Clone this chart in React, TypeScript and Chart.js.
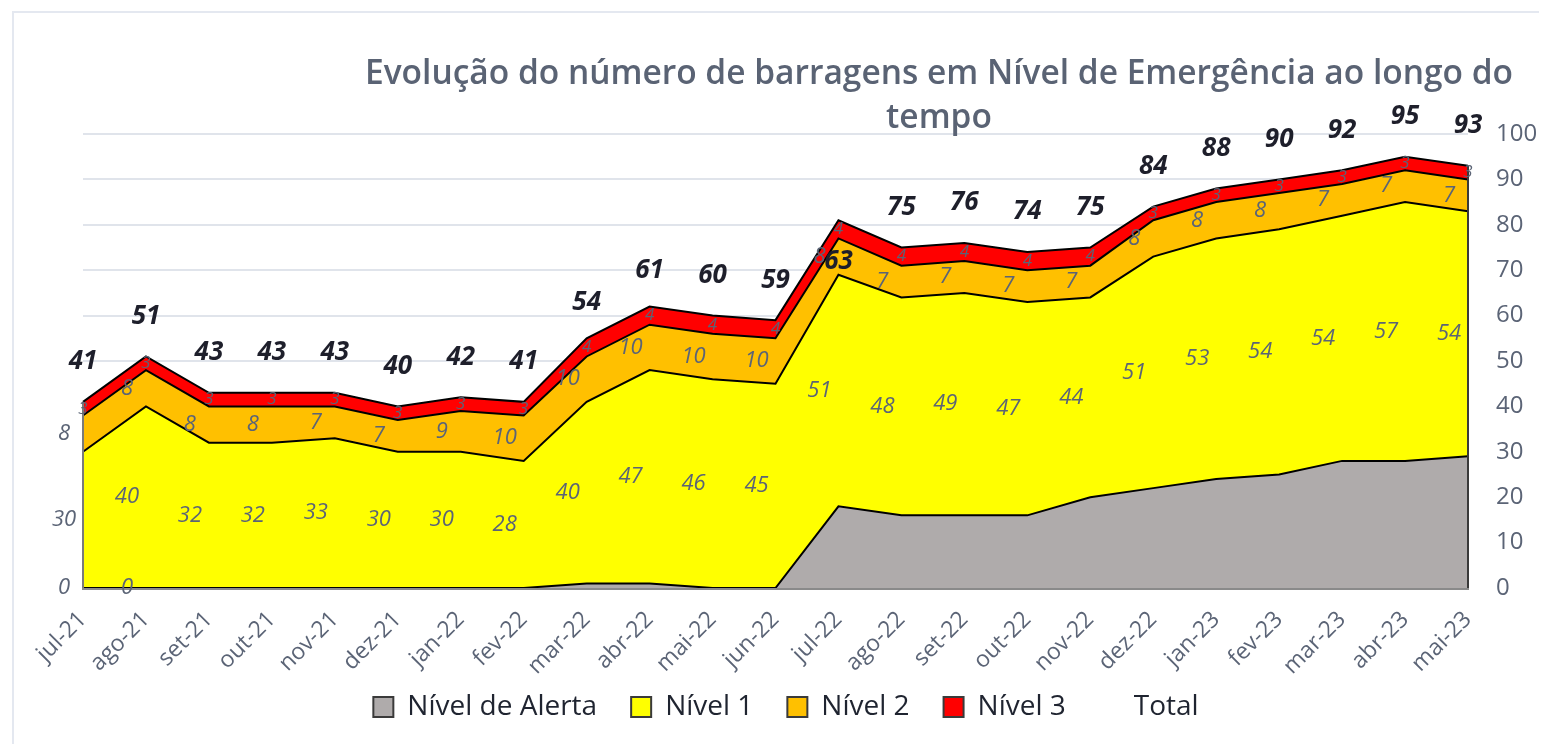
import { useEffect, useRef } from 'react';
import { Chart, registerables, CategoryScale } from 'chart.js';

class CategoryNoClip extends (CategoryScale as any) {
  static id = 'categoryNoClip';
  static defaults = (CategoryScale as any).defaults;
  _computeLabelArea() {
    return undefined;
  }
}

Chart.register(...registerables, CategoryNoClip as any);

const categories = [
  'jul-21', 'ago-21', 'set-21', 'out-21', 'nov-21', 'dez-21', 'jan-22', 'fev-22',
  'mar-22', 'abr-22', 'mai-22', 'jun-22', 'jul-22', 'ago-22', 'set-22', 'out-22',
  'nov-22', 'dez-22', 'jan-23', 'fev-23', 'mar-23', 'abr-23', 'mai-23',
];
const nivelAlerta = [0, 0, 0, 0, 0, 0, 0, 0, 1, 1, 0, 0, 18, 16, 16, 16, 20, 22, 24, 25, 28, 28, 29];
const nivel1 = [30, 40, 32, 32, 33, 30, 30, 28, 40, 47, 46, 45, 51, 48, 49, 47, 44, 51, 53, 54, 54, 57, 54];
const nivel2 = [8, 8, 8, 8, 7, 7, 9, 10, 10, 10, 10, 10, 8, 7, 7, 7, 7, 8, 8, 8, 7, 7, 7];
const nivel3 = [3, 3, 3, 3, 3, 3, 3, 3, 4, 4, 4, 4, 4, 4, 4, 4, 4, 3, 3, 3, 3, 3, 3];
const totalLabels = [41, 51, 43, 43, 43, 40, 42, 41, 54, 61, 60, 59, 63, 75, 76, 74, 75, 84, 88, 90, 92, 95, 93];
const yTicks = [0, 10, 20, 30, 40, 50, 60, 70, 80, 90, 100];
const titleLines = ['Evolução do número de barragens em Nível de Emergência ao longo do', 'tempo'];

const FONT = '"Open Sans", "DejaVu Sans", sans-serif';
const LABEL_COLOR = '#5b6476';

export default function App() {
  const ref = useRef<HTMLCanvasElement>(null);

  useEffect(() => {
    if (!ref.current) return;
    const stacks = [nivelAlerta, nivel1, nivel2, nivel3];

    const titlePlugin = {
      id: 'customTitle',
      afterLayout(chart: any) {
        if (chart.legend) {
          chart.legend.left -= 25;
          chart.legend.right -= 25;
        }
      },
      afterDraw(chart: any) {
        const ctx = chart.ctx;
        ctx.save();
        ctx.font = `600 33.5px ${FONT}`;
        ctx.fillStyle = '#5a6374';
        ctx.textAlign = 'center';
        ctx.textBaseline = 'alphabetic';
        ctx.fillText(titleLines[0], 931, 76);
        ctx.fillText(titleLines[1], 931, 120);
        ctx.restore();
      },
    };

    const labelPlugin = {
      id: 'dataLabels',
      afterDatasetsDraw(chart: any) {
        const ctx = chart.ctx;
        const ys = chart.scales.y;
        const xs = chart.scales.x;
        ctx.save();
        const edges = [0, categories.length - 1];
        edges.forEach((j, k) => {
          let sum = 0;
          stacks.forEach((s) => (sum += s[j]));
          const px = xs.getPixelForValue(j);
          ctx.beginPath();
          ctx.strokeStyle = k === 0 ? '#7a7a7a' : '#3a3a3a';
          ctx.lineWidth = 2;
          ctx.moveTo(px, ys.getPixelForValue(0));
          ctx.lineTo(px, ys.getPixelForValue(sum));
          ctx.stroke();
        });
        ctx.textAlign = 'center';
        ctx.textBaseline = 'middle';
        for (let j = 0; j < categories.length; j++) {
          let base = 0;
          const px = xs.getPixelForValue(j);
          for (let s = 0; s < stacks.length; s++) {
            const v = stacks[s][j];
            const mid = ys.getPixelForValue(base + v / 2);
            base += v;
            if (s === 0 && j > 1) continue;
            ctx.fillStyle = LABEL_COLOR;
            if (s === 3) {
              ctx.font = `italic 17px ${FONT}`;
              ctx.fillText(String(v), px, mid);
            } else {
              ctx.font = `italic 22px ${FONT}`;
              ctx.fillText(String(v), px - 19, mid);
            }
          }
        }
        const meta = chart.getDatasetMeta(4);
        ctx.font = `italic bold 26px ${FONT}`;
        ctx.fillStyle = '#1e1f2b';
        meta.data.forEach((pt: any, j: number) => {
          ctx.fillText(String(totalLabels[j]), pt.x, pt.y - 40);
        });
        ctx.restore();
      },
    };

    const chart = new Chart(ref.current, {
      type: 'line',
      data: {
        labels: categories,
        datasets: [
          {
            label: 'Nível de Alerta',
            data: nivelAlerta,
            backgroundColor: '#AFABAB',
            borderColor: '#000000',
            borderWidth: 2,
            fill: 'origin',
            pointRadius: 0,
            tension: 0,
          },
          {
            label: 'Nível 1',
            data: nivel1,
            backgroundColor: '#FFFF00',
            borderColor: '#000000',
            borderWidth: 2,
            fill: '-1',
            pointRadius: 0,
            tension: 0,
          },
          {
            label: 'Nível 2',
            data: nivel2,
            backgroundColor: '#FFC000',
            borderColor: '#000000',
            borderWidth: 2,
            fill: '-1',
            pointRadius: 0,
            tension: 0,
          },
          {
            label: 'Nível 3',
            data: nivel3,
            backgroundColor: '#FF0000',
            borderColor: '#000000',
            borderWidth: 2,
            fill: '-1',
            pointRadius: 0,
            tension: 0,
          },
          {
            label: 'Total',
            data: totalLabels,
            yAxisID: 'yT',
            showLine: false,
            pointRadius: 0,
            borderWidth: 0,
            borderColor: 'rgba(0,0,0,0)',
            backgroundColor: 'rgba(0,0,0,0)',
            fill: false,
          },
        ],
      },
      options: {
        responsive: true,
        maintainAspectRatio: false,
        animation: false,
        layout: { padding: { left: 75, top: 126, right: 0, bottom: 13 } },
        plugins: {
          title: { display: false },
          tooltip: { enabled: false },
          legend: {
            position: 'bottom',
            labels: {
              font: { family: FONT, size: 28 },
              color: '#1f2430',
              boxWidth: 20,
              boxHeight: 20,
              padding: 34,
              generateLabels(c: any) {
                const items = (Chart.defaults.plugins.legend.labels as any).generateLabels(c);
                return items.map((it: any) =>
                  it.text === 'Total'
                    ? { ...it, fillStyle: 'rgba(0,0,0,0)', strokeStyle: 'rgba(0,0,0,0)', lineWidth: 0 }
                    : { ...it, strokeStyle: '#3a3a3a', lineWidth: 2 }
                );
              },
            },
          },
        },
        scales: {
          x: {
            type: 'categoryNoClip',
            grid: { display: false, drawTicks: false },
            border: { display: true, color: '#8a8a8a', width: 3 },
            ticks: {
              color: LABEL_COLOR,
              font: { family: FONT, size: 23 },
              minRotation: 45,
              maxRotation: 45,
              padding: 18,
              autoSkip: false,
            },
            afterFit(scale: any) {
              scale.height = 71;
            },
          },
          y: {
            position: 'right',
            stacked: true,
            min: 0,
            max: 100,
            afterBuildTicks(scale: any) {
              scale.ticks = yTicks.map((v) => ({ value: v }));
            },
            grid: { color: '#e0e4eb', lineWidth: 2, drawTicks: false },
            border: { display: false },
            ticks: {
              color: LABEL_COLOR,
              font: { family: FONT, size: 24 },
              padding: 28,
            },
            afterFit(scale: any) {
              scale.width = 71;
            },
          },
          yT: {
            display: false,
            min: 0,
            max: 100,
            stacked: false,
          },
        },
      } as any,
      plugins: [titlePlugin, labelPlugin],
    });
    return () => chart.destroy();
  }, []);

  return (
    <div style={{ position: 'relative', width: 1531, height: 736 }}>
      <div
        style={{
          position: 'absolute',
          left: 4,
          top: 3,
          width: 1527,
          height: 733,
          borderTop: '2px solid #e4e8f0',
          borderLeft: '2px solid #e4e8f0',
          boxSizing: 'border-box',
          pointerEvents: 'none',
        }}
      />
      <canvas ref={ref} style={{ position: 'absolute', left: 0, top: 0, width: 1531, height: 736 }} />
    </div>
  );
}
